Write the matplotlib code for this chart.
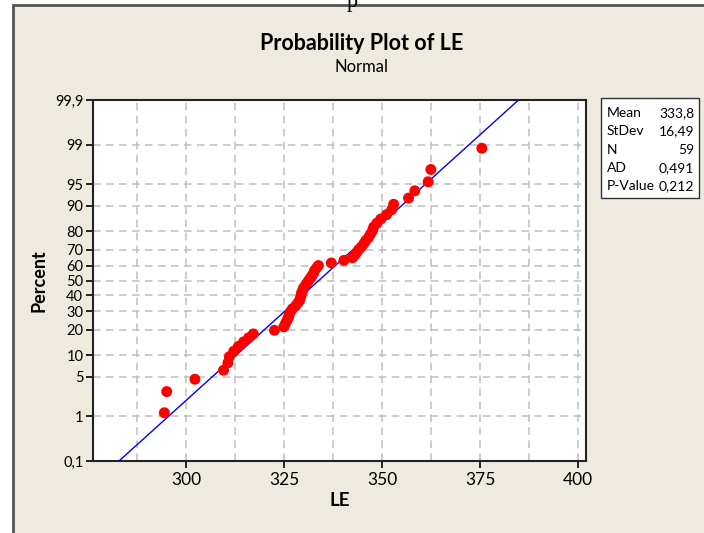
import matplotlib
matplotlib.use('Agg')
import matplotlib.pyplot as plt
from matplotlib.patches import Rectangle
from statistics import NormalDist
import numpy as np

# ---- data ----
le_values = [294.4, 295.0, 302.2, 309.5, 310.6, 311.0, 312.1, 313.3, 314.6, 315.9,
             317.1, 322.5, 324.9, 325.3, 325.7, 326.1, 326.3, 326.6, 327.1, 327.9,
             328.4, 328.9, 329.1, 329.3, 329.4, 329.7, 329.9, 330.4, 330.8, 331.2,
             331.7, 332.1, 332.5, 332.7, 333.2, 333.7, 337.0, 340.2, 342.4, 343.0,
             343.5, 344.0, 344.7, 345.3, 345.8, 346.5, 347.0, 347.5, 347.8, 348.6,
             349.6, 351.1, 352.4, 352.9, 356.7, 358.3, 361.7, 362.4, 375.4]
y_tick_percents = [0.1, 1, 5, 10, 20, 30, 40, 50, 60, 70, 80, 90, 95, 99, 99.9]
y_tick_labels = ['0,1', '1', '5', '10', '20', '30', '40', '50', '60', '70',
                 '80', '90', '95', '99', '99,9']
x_ticks = [300, 325, 350, 375, 400]
x_grid = [287.5, 312.5, 337.5, 362.5, 387.5]
stat_names = ['Mean', 'StDev', 'N', 'AD', 'P-Value']
stat_values = ['333,8', '16,49', '59', '0,491', '0,212']
fit_mean = 333.8
fit_sd = 16.49

plt.rcParams['font.family'] = ['Lato', 'DejaVu Sans']

nd = NormalDist()
xs = np.sort(np.array(le_values))
n = len(xs)
zs = np.array([nd.inv_cdf((i + 1 - 0.3) / (n + 0.4)) for i in range(n)])
ytick_z = [nd.inv_cdf(p / 100.0) for p in y_tick_percents]

W, H = 704, 533
fig = plt.figure(figsize=(W / 100, H / 100), dpi=100)
fig.patch.set_facecolor('white')

# beige panel with dark border (left and top visible)
fig.patches.append(Rectangle((13 / W, -0.1), 1.2, 1 - 5 / H + 0.1,
                             transform=fig.transFigure, facecolor='#EEEAE0',
                             edgecolor='#555555', lw=2, zorder=0))
# letter at very top (from surrounding page), partly cut by the edge as in the source
fig.text(352 / W, 1 - 7 / H, 'p', family=['Liberation Serif', 'DejaVu Serif'],
         fontsize=16, ha='center', va='baseline', color='black')

ax = fig.add_axes([93 / W, 72 / H, 492.7 / W, 361 / H])
ax.set_facecolor('white')
ax.set_zorder(2)

ax.set_xlim(276.2, 401.9)
ax.set_ylim(ytick_z[0], ytick_z[-1])

ax.set_xticks(x_ticks)
ax.set_xticklabels([str(t) for t in x_ticks])
ax.set_xticks(x_grid, minor=True)
ax.set_yticks(ytick_z)
ax.set_yticklabels(y_tick_labels)

ax.tick_params(axis='x', which='major', direction='out', length=5, width=1.2,
               labelsize=12.5, pad=3, color='black')
ax.tick_params(axis='x', which='minor', length=0)
ax.tick_params(axis='y', which='major', direction='out', length=5, width=1.2,
               labelsize=10.5, pad=2, color='black')

gkw = dict(color='#BEBEBE', ls=(0, (5, 3.5)), lw=1.1)
ax.grid(True, which='both', axis='x', **gkw)
ax.grid(True, which='major', axis='y', **gkw)
ax.set_axisbelow(True)

for s in ax.spines.values():
    s.set_linewidth(1.5)
    s.set_color('#222222')

# fitted line
line_x = np.array([270.0, 410.0])
ax.plot(line_x, (line_x - fit_mean) / fit_sd, color='#0000FF', lw=1.0, zorder=3)

# points
ax.scatter(xs, zs, s=62, color='#FF0000', edgecolors='none', zorder=4)

ax.set_xlabel('LE', fontsize=13.5, fontweight='bold', labelpad=3)
ax.set_ylabel('Percent', fontsize=13, fontweight='bold', labelpad=5)

fig.text(362 / W, 1 - 44 / H, 'Probability Plot of LE', fontsize=15.5,
         fontweight='bold', ha='center', va='center')
fig.text(362 / W, 1 - 67 / H, 'Normal', fontsize=12, ha='center', va='center')

# stats box
bx0, by0, bx1, by1 = 601, 98, 699, 198
fig.patches.append(Rectangle((bx0 / W, 1 - by1 / H), (bx1 - bx0) / W, (by1 - by0) / H,
                             transform=fig.transFigure, facecolor='white',
                             edgecolor='#333333', lw=1.0, zorder=1))
for i, (nm, val) in enumerate(zip(stat_names, stat_values)):
    yy = 1 - (113 + i * 18.3) / H
    fig.text(607 / W, yy, nm, fontsize=10, ha='left', va='center', zorder=3)
    fig.text(694 / W, yy, val, fontsize=10, ha='right', va='center', zorder=3)

fig.savefig('out.png', dpi=100, facecolor='white')
